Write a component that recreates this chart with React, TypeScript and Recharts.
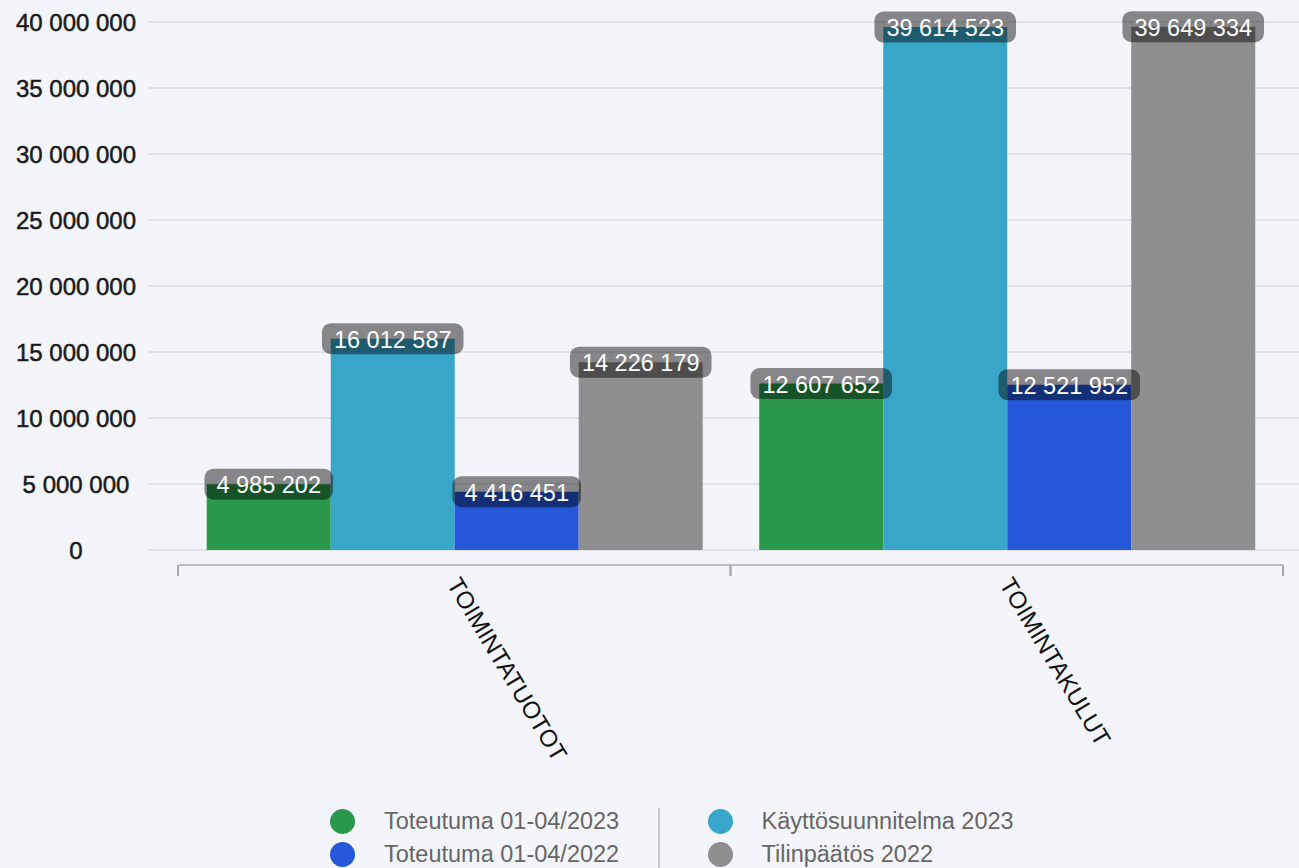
import React from "react";
import { BarChart, Bar, XAxis, YAxis, CartesianGrid, Legend, LabelList } from "recharts";

const categories = ["TOIMINTATUOTOT", "TOIMINTAKULUT"];
const toteutuma2023 = [4985202, 12607652];
const kayttosuunnitelma2023 = [16012587, 39614523];
const toteutuma2022 = [4416451, 12521952];
const tilinpaatos2022 = [14226179, 39649334];
const yTicks = [0, 5000000, 10000000, 15000000, 20000000, 25000000, 30000000, 35000000, 40000000];

const series = [
    { key: "t2023", name: "Toteutuma 01-04/2023", color: "#2a984b", values: toteutuma2023 },
    { key: "k2023", name: "Käyttösuunnitelma 2023", color: "#38a6c8", values: kayttosuunnitelma2023 },
    { key: "t2022", name: "Toteutuma 01-04/2022", color: "#2458d9", values: toteutuma2022 },
    { key: "f2022", name: "Tilinpäätös 2022", color: "#8f8f8f", values: tilinpaatos2022 },
];

const data = categories.map((name, i) => {
    const row: any = { name };
    series.forEach((s) => (row[s.key] = s.values[i]));
    return row;
});

const FONT = "'Liberation Sans', Arial, sans-serif";
const fmt = (v: number) => String(v).replace(/\B(?=(\d{3})+(?!\d))/g, " ");

function XTick(props: any) {
    const { x, y, payload } = props;
    const half = payload.offset || 0;
    const ly = y + 15;
    return (
        <g>
            <line x1={x - half} x2={x + half} y1={ly} y2={ly} stroke="#bcbdc2" strokeWidth={2} />
            <line x1={x - half} x2={x - half} y1={ly} y2={ly + 11} stroke="#a9aaae" strokeWidth={2} />
            <line x1={x + half} x2={x + half} y1={ly} y2={ly + 11} stroke="#a9aaae" strokeWidth={2} />
            <text
                x={x - 8}
                y={ly + 19}
                transform={`rotate(59 ${x - 8} ${ly + 19})`}
                fontSize={24}
                fontFamily={FONT}
                fill="#111"
                textAnchor="start"
            >
                {payload.value}
            </text>
        </g>
    );
}

function ValueLabel(props: any) {
    const { x, y, width, value } = props;
    const txt = fmt(value);
    const digits = txt.replace(/ /g, "").length;
    const spaces = txt.length - digits;
    const tw = digits * 0.556 * 23.5 + spaces * 0.278 * 23.5;
    const bw = tw + 24;
    const cx = x + width / 2;
    return (
        <g>
            <rect x={cx - bw / 2} y={y - 15.5} width={bw} height={31} rx={9} fill="rgba(0,0,0,0.45)" />
            <text x={cx} y={y + 1} fill="#fff" fontSize={23.5} fontFamily={FONT} textAnchor="middle" dominantBaseline="central">
                {txt}
            </text>
        </g>
    );
}

function LegendContent() {
    const left = [series[0], series[2]];
    const right = [series[1], series[3]];
    const item = (s: any) => (
        <div key={s.key} style={{ display: "flex", alignItems: "center", height: 33 }}>
            <div style={{ width: 25, height: 25, borderRadius: "50%", background: s.color, marginRight: 29, flexShrink: 0 }} />
            <span style={{ fontSize: 23.5, color: "#666", fontFamily: FONT, whiteSpace: "nowrap" }}>{s.name}</span>
        </div>
    );
    return (
        <div style={{ display: "flex", alignItems: "flex-start", paddingLeft: 330, paddingTop: 5, height: 63 }}>
            <div style={{ width: 292 }}>{left.map(item)}</div>
            <div style={{ width: 1.5, height: 60, background: "#c9cacd", marginLeft: 36, marginRight: 48, marginTop: 3 }} />
            <div>{right.map(item)}</div>
        </div>
    );
}

export default function App() {
    return (
        <div style={{ position: "absolute", left: 0, top: 0, width: 1299, height: 868, background: "#f4f5fa", overflow: "hidden" }}>
            <BarChart
                width={1299}
                height={868}
                data={data}
                margin={{ top: 22, right: 0, left: 0, bottom: 0 }}
                barCategoryGap="5.2%"
                barGap={0}
            >
                <CartesianGrid
                    vertical={false}
                    horizontal={(p: any) => (
                        <line key={p.key} x1={p.x1} x2={p.x2} y1={p.y1} y2={p.y2} stroke="#dcdde2" strokeWidth={1.5} />
                    )}
                />
                <XAxis
                    dataKey="name"
                    axisLine={false}
                    tickLine={false}
                    tickSize={0}
                    tickMargin={0}
                    height={250}
                    interval={0}
                    padding={{ left: 30, right: 16 }}
                    tick={<XTick />}
                />
                <YAxis
                    domain={[0, 40000000]}
                    ticks={yTicks}
                    width={148}
                    axisLine={false}
                    tickLine={false}
                    tickSize={6}
                    tickMargin={66}
                    tickFormatter={fmt}
                    tick={{ fontSize: 24, fill: "#1a1a1a", stroke: "#1a1a1a", strokeWidth: 0.5, fontFamily: FONT, textAnchor: "middle" }}
                />
                <Legend verticalAlign="bottom" content={<LegendContent />} wrapperStyle={{ height: 68 }} />
                {series.map((s) => (
                    <Bar key={s.key} dataKey={s.key} name={s.name} fill={s.color} isAnimationActive={false}>
                        <LabelList dataKey={s.key} content={<ValueLabel />} />
                    </Bar>
                ))}
            </BarChart>
        </div>
    );
}
